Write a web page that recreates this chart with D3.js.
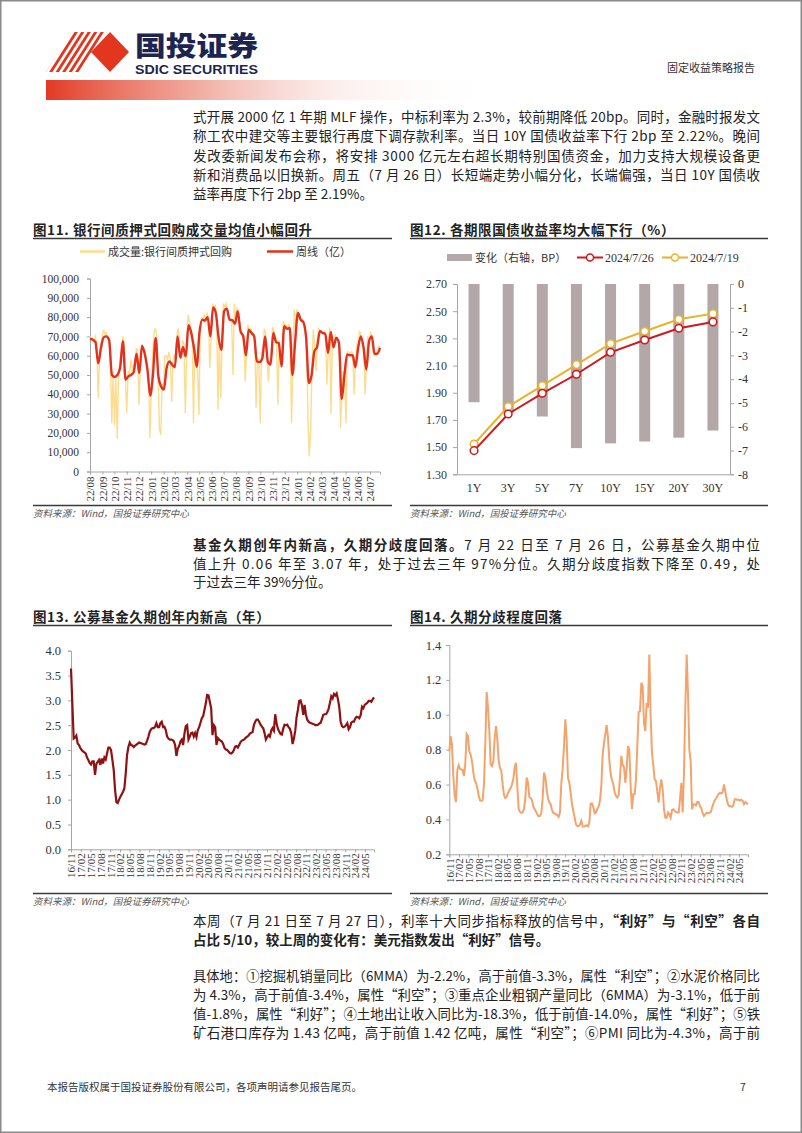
<!DOCTYPE html>
<html>
<head>
<meta charset="utf-8">
<script src="https://cdn.jsdelivr.net/npm/d3@7"></script>
<style>
  body { margin: 0; background: #fff; }
  svg { display: block; }
</style>
</head>
<body>
<svg id="page" width="802" height="1133"></svg>
<script>
// ---------- data ----------
// fig 11: interbank pledged repo volume (亿), month tick labels
var repoMonths = ["22/08","22/09","22/10","22/11","22/12","23/01","23/02","23/03","23/04","23/05","23/06","23/07",
  "23/08","23/09","23/10","23/11","23/12","24/01","24/02","24/03","24/04","24/05","24/06","24/07"];

// weekly average (周线)
var repoWeekly = [68700,68300,67000,56000,64000,69500,70000,68000,50000,49000,50000,53600,67500,47600,49300,50000,
  51600,61000,51000,65000,61000,52800,39300,50000,69200,49300,44000,42400,53600,57000,55400,54000,70000,59000,
  64400,59700,75800,71800,64000,54300,71800,78700,78200,80000,70000,85000,82000,69200,63000,83000,84400,78700,
  78400,76500,83000,72700,70000,60200,73500,71800,70000,57000,56700,58800,70000,57000,55400,71800,67000,66600,
  54500,75300,74000,74400,50000,67500,82200,78700,77300,69200,45800,50000,62300,64500,72700,71800,71300,61400,
  72300,64400,69200,66600,37500,50000,60600,60200,60200,54000,64000,70000,64000,52800,67500,70000,61000,61000,64000];

// daily volume (成交量:银行间质押式回购)
var repoDaily = [70000,69000,69000,68000,70000,66000,38000,58000,66000,70000,73500,71000,72000,69000,69000,60000,
  25000,52000,24000,48000,17000,50000,58000,62000,70000,68000,48000,30000,52000,50000,58000,52000,55000,54000,
  64000,62000,34600,55000,66000,64000,63000,60000,55000,50000,17300,42000,60000,72000,74400,70000,50000,22000,
  19000,45000,44000,60000,60000,58000,62000,58000,36000,58000,60000,58000,72000,74000,62000,58000,68000,66000,
  30000,62000,81000,78000,74000,72000,25000,66000,56000,52000,29400,74000,80000,78000,81000,79000,82000,80000,
  53600,72000,87000,85000,86000,82000,32000,70000,38000,66000,87000,85000,87000,84000,80000,78000,79000,50000,
  87000,78000,85000,82000,76000,72000,72000,70000,46700,62000,76000,74000,74000,72000,72000,70000,33000,58000,
  58000,25000,62000,60000,74000,72000,58000,46700,58000,56000,75000,73000,70000,68000,34600,68000,58000,55000,
  78000,76000,76000,74000,76000,74000,25000,55000,84000,72000,84000,82000,80000,78000,79000,77000,72000,70000,
  29400,7800,20000,52000,73500,64000,52000,68000,74000,73000,73000,72000,72000,70000,45000,64000,74700,30000,
  66000,64000,71000,69000,68000,66000,22500,40000,52000,50000,25000,62000,62000,61000,62000,61000,39800,56000,
  66000,65000,73000,71000,66000,64000,40000,55000,70000,68000,72000,71000,62000,60000,60000,62000,65000,64000];

// fig 12: government bond curve
var tenors = ["1Y","3Y","5Y","7Y","10Y","15Y","20Y","30Y"];
var yield0726 = [1.474,1.744,1.896,2.036,2.197,2.288,2.374,2.421];
var yield0719 = [1.523,1.798,1.952,2.107,2.261,2.352,2.440,2.482];
var changeBP = [-4.97,-5.4,-5.57,-6.9,-6.7,-6.62,-6.46,-6.16];

// fig 13 / 14: quarterly tick labels
var quarterTicks = ["16/11","17/02","17/05","17/08","17/11","18/02","18/05","18/08","18/11","19/02","19/05",
  "19/08","19/11","20/02","20/05","20/08","20/11","21/02","21/05","21/08","21/11","22/02","22/05","22/08",
  "22/11","23/02","23/05","23/08","23/11","24/02","24/05"];

// fig 13: median fund duration (年)
var durationMedian = [3.64,2.94,2.23,2.25,2.29,2.13,2.10,2.04,2.00,1.97,
  1.95,1.93,1.85,1.80,1.74,1.71,1.77,1.77,1.50,1.72,
  1.76,1.80,1.70,1.83,1.73,1.85,1.81,1.93,2.05,2.05,
  2.00,1.80,1.60,1.20,0.95,0.93,1.00,1.06,1.11,1.16,
  1.23,1.53,1.90,2.06,2.15,2.10,2.09,2.06,2.09,2.11,
  2.13,2.15,2.14,2.13,2.12,2.11,2.12,2.19,2.27,2.37,
  2.42,2.44,2.44,2.47,2.54,2.46,2.46,2.54,2.57,2.46,
  2.47,2.40,2.27,2.23,2.21,2.21,2.20,2.18,2.10,1.88,
  2.03,2.08,2.17,2.21,2.10,2.33,2.48,2.50,2.21,2.27,
  2.34,2.35,2.27,2.34,2.26,2.40,2.46,2.55,2.64,2.68,
  2.81,2.94,3.11,3.10,2.97,2.84,2.30,2.50,2.46,2.10,
  2.24,2.21,2.19,2.17,2.12,2.04,2.01,2.00,1.97,1.94,
  1.93,1.95,2.00,2.07,2.08,2.05,2.10,2.16,2.19,2.20,
  2.22,2.25,2.27,2.29,2.33,2.35,2.36,2.50,2.57,2.61,
  2.61,2.57,2.51,2.47,2.44,2.34,2.21,2.26,2.30,2.27,
  2.39,2.44,2.39,2.72,2.54,2.43,2.37,2.32,2.31,2.43,
  2.51,2.50,2.51,2.46,2.43,2.34,2.12,2.23,2.39,2.66,
  2.81,2.99,3.00,2.90,2.71,2.91,2.71,2.61,2.57,2.55,
  2.54,2.53,2.52,2.50,2.50,2.51,2.53,2.55,2.62,2.71,
  2.72,2.72,2.76,2.83,2.95,3.08,3.04,3.13,3.10,3.14,
  3.02,2.86,2.57,2.48,2.46,2.47,2.50,2.54,2.42,2.46,
  2.55,2.57,2.57,2.64,2.67,2.66,2.64,2.70,2.87,2.84,
  2.91,2.93,2.95,2.99,2.99,2.97,3.02,3.06];

// fig 14: duration divergence index
var durationSpread = [0.79,0.878,0.83,0.649,0.54,0.50,0.68,0.71,0.69,0.686,
  0.683,0.649,0.72,0.89,0.878,0.79,0.77,0.735,0.67,0.625,
  0.61,0.58,0.54,0.51,0.506,0.51,0.60,0.84,1.13,1.04,
  0.91,0.716,0.706,0.73,0.86,0.935,0.859,0.74,0.695,0.68,
  0.60,0.54,0.523,0.53,0.55,0.567,0.58,0.60,0.63,0.697,
  0.725,0.59,0.46,0.443,0.437,0.44,0.46,0.52,0.64,0.61,
  0.53,0.524,0.51,0.473,0.46,0.445,0.429,0.418,0.42,0.435,
  0.52,0.668,0.645,0.57,0.52,0.50,0.486,0.455,0.437,0.434,
  0.429,0.425,0.415,0.44,0.61,0.687,0.82,0.974,0.86,0.639,
  0.61,0.553,0.487,0.448,0.41,0.372,0.362,0.362,0.372,0.392,
  0.36,0.358,0.364,0.366,0.36,0.38,0.49,0.492,0.47,0.435,
  0.44,0.46,0.475,0.51,0.592,0.77,0.836,0.89,0.94,0.87,
  0.74,0.66,0.625,0.60,0.555,0.535,0.525,0.54,0.64,0.764,
  0.713,0.70,0.61,0.69,0.82,0.80,0.59,0.46,0.544,0.544,
  0.63,0.82,1.015,1.02,1.184,1.165,0.95,0.907,1.069,1.04,
  1.346,0.993,0.78,0.71,0.63,0.62,0.56,0.496,0.58,0.63,
  0.572,0.46,0.41,0.41,0.44,0.43,0.41,0.454,0.458,0.448,
  0.443,0.439,0.439,0.515,0.61,0.44,0.67,1.05,1.346,1.12,
  0.80,0.735,0.458,0.487,0.487,0.48,0.50,0.50,0.475,0.465,
  0.435,0.42,0.43,0.438,0.436,0.439,0.44,0.465,0.49,0.508,
  0.52,0.533,0.546,0.553,0.548,0.555,0.601,0.56,0.515,0.487,
  0.475,0.475,0.472,0.48,0.515,0.515,0.512,0.514,0.508,0.513,
  0.507,0.487,0.50,0.493,0.487];

// ---------- page ----------
var cjk = "'Noto Sans CJK SC', 'Noto Sans', sans-serif";
var serif = "'Liberation Serif', 'DejaVu Serif', serif";
var parse = d3.timeParse("%y/%m");
var svg = d3.select("#page");
var defs = svg.append("defs");

// page frame
svg.append("rect").attr("x", 0.75).attr("y", 0.75).attr("width", 800.5).attr("height", 1131.5)
  .attr("fill", "none").attr("stroke", "#8a8a8a").attr("stroke-width", 1.5);

// header logo
defs.append("clipPath").attr("id", "stripeClip")
  .append("polygon").attr("points", "46,72 73,32 106,32 79,72");
var stripes = svg.append("g").attr("clip-path", "url(#stripeClip)");
for (var s = 0; s < 12; s++) {
  stripes.append("line")
    .attr("x1", 30 + s * 6.5).attr("y1", 74)
    .attr("x2", 30 + s * 6.5 + 28).attr("y2", 30)
    .attr("stroke", "#e2361f").attr("stroke-width", 2.8);
}
svg.append("polygon").attr("points", "91,52 110,32 129,52 110,72").attr("fill", "#e2361f");
svg.append("text").attr("x", 135).attr("y", 56).text("国投证券")
  .attr("font-family", cjk).attr("font-weight", 900).attr("font-size", 27)
  .attr("fill", "#1c2550").attr("textLength", 123).attr("lengthAdjust", "spacingAndGlyphs");
svg.append("text").attr("x", 135).attr("y", 74).text("SDIC SECURITIES")
  .attr("font-family", "'Liberation Sans Narrow', 'Liberation Sans', sans-serif").attr("font-weight", 700)
  .attr("font-size", 12.5).attr("fill", "#1c2550")
  .attr("textLength", 123).attr("lengthAdjust", "spacingAndGlyphs");
svg.append("text").attr("x", 755).attr("y", 72).attr("text-anchor", "end").text("固定收益策略报告")
  .attr("font-family", cjk).attr("font-size", 11).attr("fill", "#333");

var grad = defs.append("linearGradient").attr("id", "hdrGrad");
grad.append("stop").attr("offset", "0").attr("stop-color", "#e23a24").attr("stop-opacity", 1);
grad.append("stop").attr("offset", "0.3").attr("stop-color", "#e8705e").attr("stop-opacity", 0.65);
grad.append("stop").attr("offset", "0.65").attr("stop-color", "#f2b5aa").attr("stop-opacity", 0.2);
grad.append("stop").attr("offset", "1").attr("stop-color", "#ffffff").attr("stop-opacity", 0);
svg.append("rect").attr("x", 46).attr("y", 80).attr("width", 455).attr("height", 20).attr("fill", "url(#hdrGrad)");

// paragraph helper: each line is a list of [text, bold]; j = justify to full width
function para(lines, x, y0, lh, w) {
  lines.forEach(function (ln, i) {
    var fs = 13.5;
    var t = svg.append("text").attr("x", x).attr("y", y0 + i * lh)
      .attr("font-family", cjk).attr("font-size", fs).attr("fill", "#222");
    ln.t.forEach(function (sg) {
      t.append("tspan").attr("font-weight", sg[1] ? 700 : 400).text(sg[0]);
    });
    var len = t.node().getComputedTextLength();
    if (len > w - 4) t.attr("font-size", fs * (w - 4) / len);   // never squeeze glyphs together
    if (ln.j) t.attr("textLength", w).attr("lengthAdjust", "spacing");
  });
}

para([
  { t: [["式开展 2000 亿 1 年期 MLF 操作，中标利率为 2.3%，较前期降低 20bp。同时，金融时报发文", 0]], j: 1 },
  { t: [["称工农中建交等主要银行再度下调存款利率。当日 10Y 国债收益率下行 2bp 至 2.22%。晚间", 0]], j: 1 },
  { t: [["发改委新闻发布会称，将安排 3000 亿元左右超长期特别国债资金，加力支持大规模设备更", 0]], j: 1 },
  { t: [["新和消费品以旧换新。周五（7 月 26 日）长短端走势小幅分化，长端偏强，当日 10Y 国债收", 0]], j: 1 },
  { t: [["益率再度下行 2bp 至 2.19%。", 0]], j: 0 }
], 193, 122, 19.25, 567);

para([
  { t: [["基金久期创年内新高，久期分歧度回落。", 1], ["7 月 22 日至 7 月 26 日，公募基金久期中位", 0]], j: 1 },
  { t: [["值上升 0.06 年至 3.07 年，处于过去三年 97%分位。久期分歧度指数下降至 0.49，处", 0]], j: 1 },
  { t: [["于过去三年 39%分位。", 0]], j: 0 }
], 193, 550, 18.5, 567);

para([
  { t: [["本周（7 月 21 日至 7 月 27 日），利率十大同步指标释放的信号中，", 0], ["“利好”与“利空”各自", 1]], j: 1 },
  { t: [["占比 5/10，较上周的变化有：美元指数发出“利好”信号。", 1]], j: 0 }
], 193, 926, 19, 567);

para([
  { t: [["具体地：①挖掘机销量同比（6MMA）为-2.2%，高于前值-3.3%，属性“利空”；②水泥价格同比", 0]], j: 1 },
  { t: [["为 4.3%，高于前值-3.4%，属性“利空”；③重点企业粗钢产量同比（6MMA）为-3.1%，低于前", 0]], j: 1 },
  { t: [["值-1.8%，属性“利好”；④土地出让收入同比为-18.3%，低于前值-14.0%，属性“利好”；⑤铁", 0]], j: 1 },
  { t: [["矿石港口库存为 1.43 亿吨，高于前值 1.42 亿吨，属性“利空”；⑥PMI 同比为-4.3%，高于前", 0]], j: 1 }
], 193, 981, 19, 567);

// footer
svg.append("text").attr("x", 47).attr("y", 1091).text("本报告版权属于国投证券股份有限公司，各项声明请参见报告尾页。")
  .attr("font-family", cjk).attr("font-size", 10.5).attr("fill", "#333");
svg.append("text").attr("x", 740).attr("y", 1091).text("7")
  .attr("font-family", cjk).attr("font-size", 10.5).attr("fill", "#333");

// chart frame: title, rule, source
function frame(x1, x2, titleY, srcY, title) {
  svg.append("text").attr("x", x1).attr("y", titleY).text(title)
    .attr("font-family", cjk).attr("font-weight", 700).attr("font-size", 13.5)
    .attr("letter-spacing", 0.6).attr("fill", "#222");
  svg.append("line").attr("x1", x1).attr("x2", x2).attr("y1", titleY + 3.5).attr("y2", titleY + 3.5)
    .attr("stroke", "#3a3a3a").attr("stroke-width", 1.6);
  if (srcY) {
    svg.append("line").attr("x1", x1).attr("x2", x2).attr("y1", srcY - 11).attr("y2", srcY - 11)
      .attr("stroke", "#3a3a3a").attr("stroke-width", 1.6);
    svg.append("text").attr("x", x1).attr("y", srcY).text("资料来源：Wind，国投证券研究中心")
      .attr("font-family", cjk).attr("font-style", "italic").attr("font-size", 9.5).attr("fill", "#555");
  }
}
frame(33, 392, 235, 516.5, "图11. 银行间质押式回购成交量均值小幅回升");
frame(410, 768, 235, 516.5, "图12. 各期限国债收益率均大幅下行（%）");
frame(33, 392, 622, 904.5, "图13. 公募基金久期创年内新高（年）");
frame(410, 768, 622, 904.5, "图14. 久期分歧程度回落");

function styleAxis(g, size) {
  g.select(".domain").attr("stroke", "#a6a6a6");
  g.selectAll(".tick line").attr("stroke", "#a6a6a6");
  g.selectAll("text").attr("font-family", serif).attr("font-size", size).attr("fill", "#333");
}
function rotateLabels(g, off) {
  g.selectAll(".tick text").attr("transform", "rotate(-90)").attr("text-anchor", "end")
    .attr("x", -off).attr("y", 0).attr("dy", "0.35em");
}
function spread(arr, scale) {
  var d0 = +scale.domain()[0], d1 = +scale.domain()[1];
  return arr.map(function (v, i) { return { date: new Date(d0 + (d1 - d0) * i / (arr.length - 1)), v: v }; });
}

// ---------- fig 11 ----------
var x11 = d3.scaleTime().domain([parse("22/08"), new Date(2024, 6, 26)]).range([90, 380]);
var y11 = d3.scaleLinear().domain([0, 100000]).range([471.5, 278.5]);

var ax11y = svg.append("g").attr("transform", "translate(90,0)")
  .call(d3.axisLeft(y11).tickValues(d3.range(0, 100001, 10000)).tickFormat(d3.format(",")).tickSize(3).tickPadding(8));
styleAxis(ax11y, 11.5);
var ax11x = svg.append("g").attr("transform", "translate(0,471.5)")
  .call(d3.axisBottom(x11).tickValues(repoMonths.map(parse)).tickFormat(function (d, i) { return repoMonths[i]; }).tickSize(3));
styleAxis(ax11x, 11);
rotateLabels(ax11x, 5);

svg.append("path").datum(spread(repoDaily, x11))
  .attr("fill", "none").attr("stroke", "#fddc90").attr("stroke-width", 1.4)
  .attr("d", d3.line().x(function (d) { return x11(d.date); }).y(function (d) { return y11(d.v); }));
svg.append("path").datum(spread(repoWeekly, x11))
  .attr("fill", "none").attr("stroke", "#e0321e").attr("stroke-width", 2.4)
  .attr("d", d3.line().curve(d3.curveMonotoneX).x(function (d) { return x11(d.date); }).y(function (d) { return y11(d.v); }));

// legend
svg.append("line").attr("x1", 80).attr("x2", 105).attr("y1", 251.5).attr("y2", 251.5)
  .attr("stroke", "#fddc90").attr("stroke-width", 2.5);
svg.append("text").attr("x", 108).attr("y", 255.5).text("成交量:银行间质押式回购")
  .attr("font-family", cjk).attr("font-size", 11).attr("fill", "#333");
svg.append("line").attr("x1", 267).attr("x2", 293).attr("y1", 251.5).attr("y2", 251.5)
  .attr("stroke", "#e0321e").attr("stroke-width", 2.5);
svg.append("text").attr("x", 296).attr("y", 255.5).text("周线（亿）")
  .attr("font-family", cjk).attr("font-size", 11).attr("fill", "#333");

// ---------- fig 12 ----------
var x12 = d3.scaleBand().domain(tenors).range([457, 730]);
var yL = d3.scaleLinear().domain([1.3, 2.7]).range([474.3, 284]);
var yR = d3.scaleLinear().domain([-8, 0]).range([474.3, 284]);
var barW = 11;

svg.selectAll(".bar12").data(changeBP).join("rect").attr("class", "bar12")
  .attr("x", function (d, i) { return x12(tenors[i]) + x12.bandwidth() / 2 - barW / 2; })
  .attr("y", yR(0)).attr("width", barW)
  .attr("height", function (d) { return yR(d) - yR(0); })
  .attr("fill", "#b3a7a7");

var ax12l = svg.append("g").attr("transform", "translate(457,0)")
  .call(d3.axisLeft(yL).tickValues(d3.range(1.3, 2.71, 0.2)).tickFormat(d3.format(".2f")).tickSize(4).tickPadding(6));
styleAxis(ax12l, 12);
var ax12r = svg.append("g").attr("transform", "translate(730,0)")
  .call(d3.axisRight(yR).tickValues(d3.range(-8, 1, 1)).tickFormat(function (d) { return String(d); }).tickSize(4).tickPadding(4));
styleAxis(ax12r, 12);
var ax12b = svg.append("g").attr("transform", "translate(0,474.3)")
  .call(d3.axisBottom(x12).tickSize(0).tickPadding(9));
styleAxis(ax12b, 12);

function yieldLine(vals, color) {
  svg.append("path").datum(vals).attr("fill", "none").attr("stroke", color).attr("stroke-width", 2)
    .attr("d", d3.line().x(function (d, i) { return x12(tenors[i]) + x12.bandwidth() / 2; }).y(function (d) { return yL(d); }));
  svg.append("g").selectAll("circle").data(vals).join("circle")
    .attr("cx", function (d, i) { return x12(tenors[i]) + x12.bandwidth() / 2; })
    .attr("cy", function (d) { return yL(d); }).attr("r", 3.8)
    .attr("fill", "#fff").attr("stroke", color).attr("stroke-width", 1.5);
}
yieldLine(yield0719, "#e8b32c");
yieldLine(yield0726, "#cc1a1f");

// legend
svg.append("rect").attr("x", 447).attr("y", 254).attr("width", 25).attr("height", 7).attr("fill", "#b3a7a7");
svg.append("text").attr("x", 475).attr("y", 261.5).text("变化（右轴，BP）")
  .attr("font-family", cjk).attr("font-size", 11).attr("fill", "#333");
[[577, "#cc1a1f", "2024/7/26"], [662, "#e8b32c", "2024/7/19"]].forEach(function (lg) {
  svg.append("line").attr("x1", lg[0]).attr("x2", lg[0] + 26).attr("y1", 257.5).attr("y2", 257.5)
    .attr("stroke", lg[1]).attr("stroke-width", 2);
  svg.append("circle").attr("cx", lg[0] + 13).attr("cy", 257.5).attr("r", 3.5)
    .attr("fill", "#fff").attr("stroke", lg[1]).attr("stroke-width", 1.5);
  svg.append("text").attr("x", lg[0] + 28).attr("y", 261.5).text(lg[2])
    .attr("font-family", serif).attr("font-size", 12).attr("fill", "#333");
});

// ---------- fig 13 ----------
var x13 = d3.scaleTime().domain([parse("16/11"), new Date(2024, 6, 26)]).range([71, 374]);
var y13 = d3.scaleLinear().domain([0, 4]).range([849.3, 650.7]);
var ax13y = svg.append("g").attr("transform", "translate(71,0)")
  .call(d3.axisLeft(y13).tickValues(d3.range(0, 4.01, 0.5)).tickFormat(d3.format(".1f")).tickSize(3).tickPadding(7));
styleAxis(ax13y, 12.5);
var ax13x = svg.append("g").attr("transform", "translate(0,849.3)")
  .call(d3.axisBottom(x13).tickValues(quarterTicks.map(parse)).tickFormat(function (d, i) { return quarterTicks[i]; }).tickSize(3));
styleAxis(ax13x, 11);
rotateLabels(ax13x, 4);
svg.append("path").datum(spread(durationMedian, x13))
  .attr("fill", "none").attr("stroke", "#8e1212").attr("stroke-width", 2.2)
  .attr("d", d3.line().x(function (d) { return x13(d.date); }).y(function (d) { return y13(d.v); }));

// ---------- fig 14 ----------
var x14 = d3.scaleTime().domain([parse("16/11"), new Date(2024, 6, 26)]).range([449.3, 748]);
var y14 = d3.scaleLinear().domain([0.2, 1.4]).range([854.3, 645]);
var ax14y = svg.append("g").attr("transform", "translate(449.3,0)")
  .call(d3.axisLeft(y14).tickValues(d3.range(0.2, 1.41, 0.2)).tickFormat(d3.format(".1f")).tickSize(3).tickPadding(5));
styleAxis(ax14y, 12.5);
var ax14x = svg.append("g").attr("transform", "translate(0,854.3)")
  .call(d3.axisBottom(x14).tickValues(quarterTicks.map(parse)).tickFormat(function (d, i) { return quarterTicks[i]; }).tickSize(3));
styleAxis(ax14x, 11);
rotateLabels(ax14x, 4);
svg.append("path").datum(spread(durationSpread, x14))
  .attr("fill", "none").attr("stroke", "#f3a46c").attr("stroke-width", 2)
  .attr("d", d3.line().x(function (d) { return x14(d.date); }).y(function (d) { return y14(d.v); }));
</script>
</body>
</html>
